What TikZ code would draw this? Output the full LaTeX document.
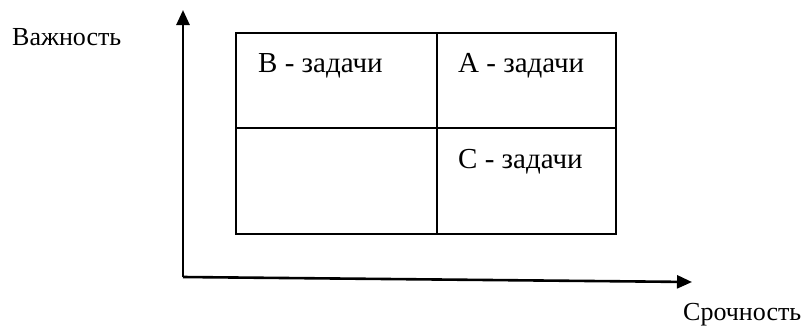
\documentclass[tikz,border=0pt]{standalone}
\usepackage{fontspec}
\setmainfont{Liberation Serif}
\usetikzlibrary{arrows.meta}

\begin{document}
\begin{tikzpicture}[x=1pt,y=-1pt]
	\tikzset{lbl/.style={font=\fontsize{29}{33}\selectfont,inner sep=0pt,anchor=base west},
	         axlbl/.style={lbl,font=\fontsize{26}{30}\selectfont}}
	\useasboundingbox (0,0) rectangle (802,327);
	\coordinate (O) at (183,277);
	\coordinate (Y) at (183,10);
	\coordinate (X) at (692,282);
	\coordinate (TL) at (236,33);
	\coordinate (BR) at (616,234);
	\coordinate (MT) at (437,33);
	\coordinate (MB) at (437,234);
	\coordinate (ML) at (236,128);
	\coordinate (MR) at (616,128);
	\node[axlbl] (Imp) at (12,45) {Важность};
	\node[axlbl] (Urg) at (683,320) {Срочность};
	\node[lbl] (B) at (258,72) {В - задачи};
	\node[lbl] (A) at (458,72) {А - задачи};
	\node[lbl] (C) at (458,168) {С - задачи};
	\draw[line width=2pt] (TL) rectangle (BR);
	\path[line width=2pt]
	     (MT) edge (MB)
	     (ML) edge (MR);
	\path[-{Triangle[length=15pt,width=13pt]},line width=2.6pt]
	     (O) edge (Y)  (O) edge (X);
\end{tikzpicture}
\end{document}
